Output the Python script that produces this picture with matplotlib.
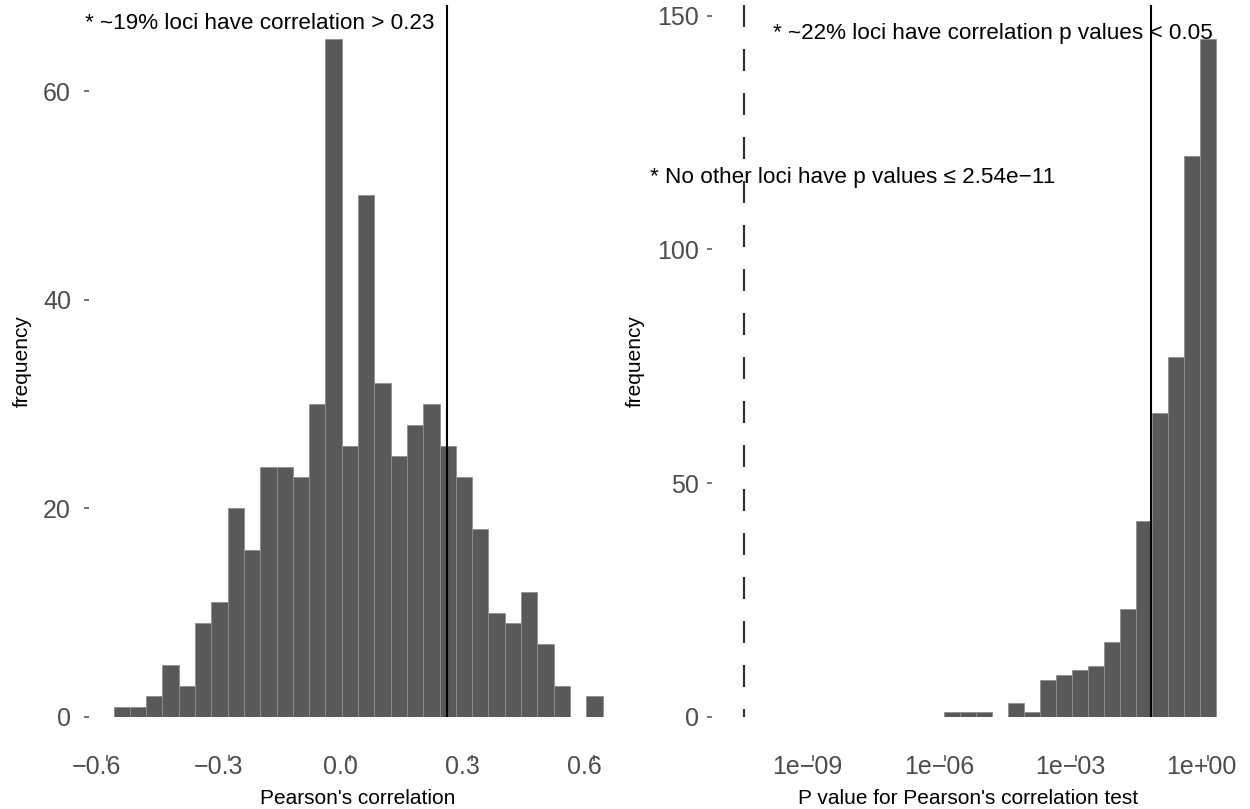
import numpy as np
import matplotlib
matplotlib.use("Agg")
import matplotlib.pyplot as plt
from matplotlib.ticker import FixedLocator, FixedFormatter, NullLocator
from matplotlib.transforms import ScaledTranslation

plt.rcParams['font.family'] = ['Liberation Sans', 'DejaVu Sans']

# ---------------- data ----------------
# Left: histogram of Pearson's correlation (30 bins, first/last bin centred on min/max)
corr_counts = [1, 1, 2, 5, 3, 9, 11, 20, 16, 24, 24, 23, 30, 65, 26,
               50, 32, 25, 28, 30, 26, 23, 18, 10, 9, 12, 7, 3, 0, 2]
corr_min = -0.563
corr_max = 0.601
corr_threshold = 0.239
corr_ticks = [-0.6, -0.3, 0.0, 0.3, 0.6]
corr_tick_labels = ["\u22120.6", "\u22120.3", "0.0", "0.3", "0.6"]
corr_yticks = [0, 20, 40, 60]

# Right: histogram of p values on log10 axis (30 bins)
pval_counts = [0, 0, 0, 0, 0, 0, 0, 0, 0, 0, 0, 0, 0, 1, 1,
               1, 0, 3, 1, 8, 9, 10, 11, 16, 23, 42, 65, 77, 120, 145]
pval_floor = 2.54e-11      # dashed line, also lower end of the binning range
pval_max = 1.0
pval_threshold = 0.05
pval_ticks = [1e-9, 1e-6, 1e-3, 1e0]
pval_tick_labels = ["1e\u221209", "1e\u221206", "1e\u221203", "1e+00"]
pval_yticks = [0, 50, 100, 150]

ann_left = "* ~19% loci have correlation > 0.23"
ann_right = "* ~22% loci have correlation p values < 0.05"
ann_floor = "* No other loci have p values \u2264 2.54e\u221211"

# ---------------- figure ----------------
W, H = 1250, 809
fig = plt.figure(figsize=(W / 100, H / 100), dpi=100)

def px_rect(x0, y0, x1, y1):
    return [x0 / W, 1 - y1 / H, (x1 - x0) / W, (y1 - y0) / H]

def px(x, y):
    return x / W, 1 - y / H

BAR = "#595959"
EDGE = "#8f8f8f"
TXT = "#4D4D4D"
TICK_FS = 18
TITLE_FS = 15
ANN_FS = 16.2

def edges_from(lo, hi, n):
    w = (hi - lo) / (n - 1)
    return np.linspace(lo - w / 2, hi + w / 2, n + 1)

def style_axes(ax, ypad, xlabel_shift_px):
    for s in ax.spines.values():
        s.set_visible(False)
    ax.spines['bottom'].set_position(('outward', 38 * 0.72))
    ax.tick_params(axis='x', direction='out', length=6 * 0.72, width=1.1,
                   color=TXT, labelcolor=TXT, labelsize=TICK_FS, pad=-5.5 * 0.72)
    ax.tick_params(axis='y', direction='out', length=5 * 0.72, width=1.1,
                   color=TXT, labelcolor=TXT, labelsize=TICK_FS, pad=ypad)
    ax.xaxis.set_minor_locator(NullLocator())
    ax.set_facecolor('white')
    shift = ScaledTranslation(xlabel_shift_px / 100, 0, fig.dpi_scale_trans)
    for lab in ax.get_xticklabels():
        lab.set_transform(lab.get_transform() + shift)

# ----- left panel -----
ax1 = fig.add_axes(px_rect(89.1, 5, 627, 717))
n1 = len(corr_counts)
e1 = edges_from(corr_min, corr_max, n1)
c1 = np.array(corr_counts)
m1 = c1 > 0
ax1.bar(e1[:-1][m1], c1[m1], width=np.diff(e1)[m1], align='edge',
        color=BAR, edgecolor=EDGE, linewidth=0.6)
span1 = e1[-1] - e1[0]
ax1.set_xlim(e1[0] - 0.05 * span1, e1[-1] + 0.05 * span1)
ax1.set_ylim(0, max(corr_counts) * 1.05)
ax1.axvline(corr_threshold, color='black', lw=1.5)
ax1.xaxis.set_major_locator(FixedLocator(corr_ticks))
ax1.xaxis.set_major_formatter(FixedFormatter(corr_tick_labels))
ax1.set_yticks(corr_yticks)
style_axes(ax1, 13 * 0.72, -10)

# ----- right panel -----
ax2 = fig.add_axes(px_rect(711.6, 5, 1239.7, 717))
ax2.set_xscale('log')
n2 = len(pval_counts)
le2 = edges_from(np.log10(pval_floor), np.log10(pval_max), n2)
p_left = 10 ** le2[:-1]
p_right = 10 ** le2[1:]
c2 = np.array(pval_counts)
m2 = c2 > 0
ax2.bar(p_left[m2], c2[m2], width=(p_right - p_left)[m2], align='edge',
        color=BAR, edgecolor=EDGE, linewidth=0.6)
span2 = le2[-1] - le2[0]
ax2.set_xlim(10 ** (le2[0] - 0.05 * span2), 10 ** (le2[-1] + 0.05 * span2))
ytop2 = max(pval_counts) * 1.05
ax2.set_ylim(0, ytop2)
ax2.axvline(pval_threshold, color='black', lw=1.5)
ax2.plot([pval_floor, pval_floor], [ytop2, 0], color='#333333', lw=1.6,
         dashes=(9.9, 9.9), solid_capstyle='butt', dash_capstyle='butt')
ax2.xaxis.set_major_locator(FixedLocator(pval_ticks))
ax2.xaxis.set_major_formatter(FixedFormatter(pval_tick_labels))
ax2.set_yticks(pval_yticks)
style_axes(ax2, 8 * 0.72, -6)

# ----- axis titles -----
fig.text(*px(358, 798), "Pearson's correlation", ha='center', va='center',
         fontsize=TITLE_FS, color='black')
fig.text(*px(968, 798), "P value for Pearson's correlation test", ha='center',
         va='center', fontsize=TITLE_FS, color='black')
fig.text(*px(22.5, 361), "frequency", ha='center', va='center', rotation=90,
         fontsize=TITLE_FS, color='black')
fig.text(*px(635, 361), "frequency", ha='center', va='center', rotation=90,
         fontsize=TITLE_FS, color='black')

# ----- annotations -----
fig.text(*px(435, 29), ann_left, ha='right', va='baseline', fontsize=ANN_FS, color='black')
fig.text(*px(773, 39), ann_right, ha='left', va='baseline', fontsize=ANN_FS, color='black')
fig.text(*px(650, 183), ann_floor, ha='left', va='baseline', fontsize=ANN_FS, color='black')

fig.savefig("out.png", dpi=100, facecolor='white')
